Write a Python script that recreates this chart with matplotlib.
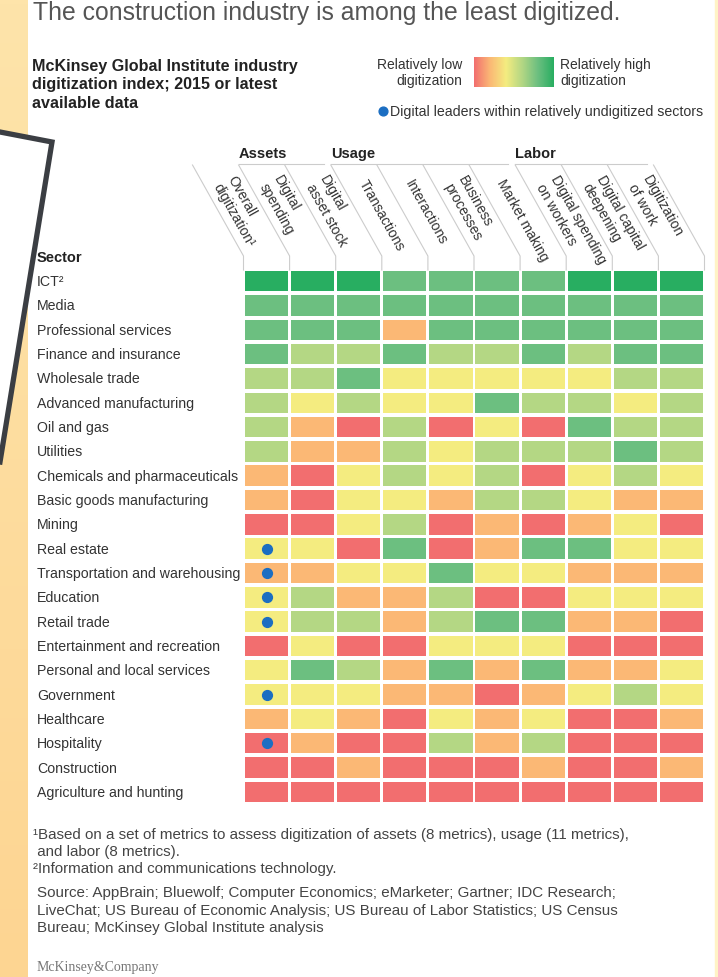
import matplotlib.pyplot as plt
import matplotlib.transforms as mtransforms
from matplotlib.patches import Rectangle, Polygon
from matplotlib.colors import LinearSegmentedColormap
import numpy as np

plt.rcParams['font.family'] = ['Liberation Sans', 'DejaVu Sans']

W, H = 718, 978

sectors = ["ICT²", "Media", "Professional services", "Finance and insurance",
           "Wholesale trade", "Advanced manufacturing", "Oil and gas", "Utilities",
           "Chemicals and pharmaceuticals", "Basic goods manufacturing", "Mining",
           "Real estate", "Transportation and warehousing", "Education", "Retail trade",
           "Entertainment and recreation", "Personal and local services", "Government",
           "Healthcare", "Hospitality", "Construction", "Agriculture and hunting"]

metrics = ["Overall\ndigitization¹", "Digital\nspending", "Digital\nasset stock",
           "Transactions", "Interactions", "Business\nprocesses", "Market making",
           "Digital spending\non workers", "Digital capital\ndeepening",
           "Digitization\nof work"]

groups = ["Assets", "Usage", "Labor"]
group_start = [1, 3, 7]
group_end = [3, 7, 10]

leaders = ["Real estate", "Transportation and warehousing", "Education",
           "Retail trade", "Government", "Hospitality"]

# 0 = relatively low ... 5 = relatively high digitization
scores = [
    [5, 5, 5, 4, 4, 4, 4, 5, 5, 5],
    [4, 4, 4, 4, 4, 4, 4, 4, 4, 4],
    [4, 4, 4, 1, 4, 4, 4, 4, 4, 4],
    [4, 3, 3, 4, 3, 3, 4, 3, 4, 4],
    [3, 3, 4, 2, 2, 2, 2, 2, 3, 3],
    [3, 2, 3, 2, 2, 4, 3, 3, 2, 3],
    [3, 1, 0, 3, 0, 2, 0, 4, 3, 3],
    [3, 1, 1, 3, 2, 3, 3, 3, 4, 3],
    [1, 0, 2, 3, 2, 3, 0, 2, 3, 2],
    [1, 0, 2, 2, 1, 3, 3, 2, 1, 1],
    [0, 0, 2, 3, 0, 1, 0, 1, 2, 0],
    [2, 2, 0, 4, 0, 1, 4, 4, 2, 2],
    [1, 1, 2, 2, 4, 2, 2, 1, 1, 1],
    [2, 3, 1, 1, 3, 0, 0, 2, 2, 2],
    [2, 3, 3, 1, 3, 4, 4, 1, 1, 0],
    [0, 2, 0, 0, 2, 2, 2, 0, 0, 0],
    [2, 4, 3, 1, 4, 1, 4, 1, 1, 2],
    [2, 2, 2, 1, 1, 0, 1, 2, 3, 2],
    [1, 2, 1, 0, 2, 1, 2, 0, 0, 1],
    [0, 1, 0, 0, 3, 1, 3, 0, 0, 0],
    [0, 0, 1, 0, 0, 0, 1, 0, 0, 1],
    [0, 0, 0, 0, 0, 0, 0, 0, 0, 0],
]

palette = ['#f26e6f', '#fbb875', '#f4ec80', '#b4d784', '#6cbf80', '#28ae61']

fig = plt.figure(figsize=(W / 100, H / 100), dpi=100)

# background layer in pixel coordinates
bg = fig.add_axes([0, 0, 1, 1])
bg.set_xlim(0, W)
bg.set_ylim(H, 0)
bg.axis('off')

strip = np.linspace(0, 1, 200)[:, None]
strip_cmap = LinearSegmentedColormap.from_list('strip', ['#fee4aa', '#fdd592'])
bg.imshow(strip, extent=(0, 28, H, 0), cmap=strip_cmap, aspect='auto', zorder=0)
bg.add_patch(Rectangle((715, 0), 3, H, color='#fff3c6', zorder=0))
bg.add_patch(Polygon([(0, 133), (52, 143), (0, 463)], closed=True,
                     facecolor='white', edgecolor='none', zorder=1))
bg.plot([0, 52, 0], [133, 143, 463], color='#3b3e43', lw=3.8,
        solid_joinstyle='miter', zorder=2)

# titles
bg.text(33, 13, "The construction industry is among the least digitized.",
        fontsize=17.8, color='#555555', va='center')
bg.text(32, 85, "McKinsey Global Institute industry\ndigitization index; 2015 or latest\navailable data",
        fontsize=11.6, fontweight='bold', color='#222222', va='center',
        linespacing=1.25)

# legend
cmap = LinearSegmentedColormap.from_list('digi', palette)
bg.imshow(np.linspace(0, 1, 256)[None, :], extent=(474, 554, 88, 58),
          cmap=cmap, aspect='auto', zorder=1)
bg.text(462, 73, "Relatively low\ndigitization", fontsize=10, color='#333333',
        ha='right', va='center', multialignment='right', linespacing=1.25)
bg.text(560, 73, "Relatively high\ndigitization", fontsize=10, color='#333333',
        ha='left', va='center', linespacing=1.25)
bg.scatter([383], [112], s=40, color='#1b6ec2', zorder=3)
bg.text(390, 112, "Digital leaders within relatively undigitized sectors",
        fontsize=10.2, color='#333333', va='center')

# heatmap
x0, x1, y0, y1 = 243.5, 704.5, 270, 805
ax = fig.add_axes([x0 / W, 1 - y1 / H, (x1 - x0) / W, (y1 - y0) / H])
ax.set_xlim(0, len(metrics))
ax.set_ylim(len(sectors), 0)
ax.axis('off')
ax.patch.set_alpha(0)

for i, row in enumerate(scores):
    for j, v in enumerate(row):
        ax.add_patch(Rectangle((j + 0.0325, i + 0.08), 0.935, 0.84,
                               facecolor=palette[v], edgecolor='none'))

lead_rows = [sectors.index(s) + 0.5 for s in leaders]
ax.scatter([0.5] * len(lead_rows), lead_rows, s=50, color='#1b6ec2', zorder=3)

# sector labels (x in pixels, y in heatmap rows)
trans = mtransforms.blended_transform_factory(bg.transData, ax.transData)
for i, s in enumerate(sectors):
    bg.text(37, i + 0.5, s, transform=trans, fontsize=10.2, color='#333333',
            va='center')
bg.text(37, 258, "Sector", fontsize=10.5, fontweight='bold', color='#222222',
        va='center')

# slanted column headers
cw = (x1 - x0) / len(metrics)
slant = 51
top, bend = 166, 257
ang = np.degrees(np.arctan2(bend - top, slant))
for j in range(len(metrics) + 1):
    xb = x0 + j * cw
    bg.plot([xb - slant, xb, xb], [top, bend, y0 + 1], color='#cccccc', lw=0.8)
for j, m in enumerate(metrics):
    xb = x0 + j * cw
    ty = 181
    tx = xb - slant + cw / 2 + (ty - top) * slant / (bend - top)
    bg.text(tx, ty, m, fontsize=10, color='#333333', rotation=-ang,
            rotation_mode='anchor', ha='left', va='center', linespacing=1.2)

for g, a, b in zip(groups, group_start, group_end):
    xa = x0 + a * cw - slant
    xe = x0 + b * cw - slant
    bg.plot([xa, xe - 7], [top - 1, top - 1], color='#cccccc', lw=0.8)
    bg.text(xa, 154, g, fontsize=10.5, fontweight='bold', color='#222222',
            va='center')

# footnotes
notes = ["¹Based on a set of metrics to assess digitization of assets (8 metrics), usage (11 metrics),",
         " and labor (8 metrics).",
         "²Information and communications technology."]
for k, t in enumerate(notes):
    bg.text(33, 835 + k * 17, t, fontsize=10.9, color='#444444', va='center')
src = ["Source: AppBrain; Bluewolf; Computer Economics; eMarketer; Gartner; IDC Research;",
       "LiveChat; US Bureau of Economic Analysis; US Bureau of Labor Statistics; US Census",
       "Bureau; McKinsey Global Institute analysis"]
for k, t in enumerate(src):
    bg.text(37, 893 + k * 17.5, t, fontsize=10.9, color='#444444', va='center')
bg.text(37, 967, "McKinsey&Company", fontsize=10, color='#777777', va='center',
        family='Liberation Serif')

fig.savefig('out.png', dpi=100)
